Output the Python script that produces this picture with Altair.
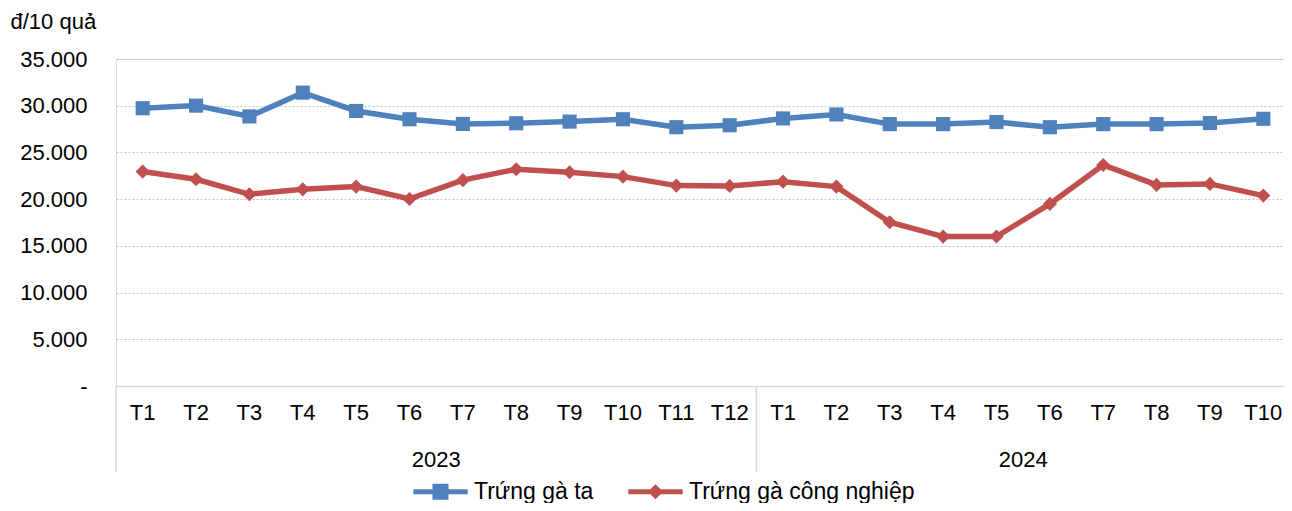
import altair as alt
import pandas as pd

# ---- data ----
years = ["2023"] * 12 + ["2024"] * 10
months = ["T1", "T2", "T3", "T4", "T5", "T6", "T7", "T8", "T9", "T10", "T11", "T12",
          "T1", "T2", "T3", "T4", "T5", "T6", "T7", "T8", "T9", "T10"]
trung_ga_ta = [29730, 30010, 28850, 31400, 29440, 28550, 28050, 28120, 28300, 28550, 27700, 27910,
               28640, 29060, 28030, 28030, 28250, 27700, 28030, 28030, 28150, 28600]
trung_ga_cn = [22950, 22130, 20520, 21050, 21340, 20020, 22030, 23200, 22880, 22410, 21450, 21410,
               21870, 21340, 17530, 15990, 16000, 19490, 23660, 21520, 21630, 20380]
series_names = ["Trứng gà ta", "Trứng gà công nghiệp"]
series_colors = ["#4F81BD", "#C0504D"]
y_ticks = [0, 5000, 10000, 15000, 20000, 25000, 30000, 35000]
y_title = "đ/10 quả"

FONT = "Liberation Sans"
W, H = 1168, 327          # visible plot area
X_RANGE = 1174            # band scale runs slightly past the visible right edge

keys = [f"{m}|{y}" for m, y in zip(months, years)]
rows = []
for k, v1, v2 in zip(keys, trung_ga_ta, trung_ga_cn):
    rows.append({"key": k, "series": series_names[0], "value": v1})
    rows.append({"key": k, "series": series_names[1], "value": v2})
df = pd.DataFrame(rows)

# year groups -> separators and centred year labels
year_order = []
for y in years:
    if y not in year_order:
        year_order.append(y)
sep_rows, year_rows = [], []
for y in year_order:
    start = years.index(y)
    n = years.count(y)
    sep_rows.append({"key": keys[start]})
    year_rows.append({"key": keys[start + n // 2], "year": y})
df_sep = pd.DataFrame(sep_rows)
df_year = pd.DataFrame(year_rows)

x_scale = alt.Scale(type="band", domain=keys, paddingInner=0, paddingOuter=0,
                    range=[0, X_RANGE])
x_axis = alt.Axis(title=None, labelExpr="split(datum.value, '|')[0]", labelAngle=0,
                  labelFontSize=22, labelFont=FONT, labelColor="#000000", labelPadding=16,
                  ticks=False, tickSize=0, domainColor="#d9d9d9", domainWidth=1.5, grid=False)
nb = "\u00a0" * 4
y_axis = alt.Axis(values=y_ticks,
                  labelExpr="datum.value == 0 ? '-" + nb + "' : format(datum.value / 1000, '.3f')",
                  title=y_title, titleAngle=0, titleAlign="left", titleBaseline="alphabetic",
                  titleX=-106, titleY=-31, titleFontSize=22, titleFontWeight="normal",
                  titleFont=FONT, titleColor="#000000",
                  labelFontSize=22, labelFont=FONT, labelColor="#000000", labelPadding=29,
                  domain=False, ticks=False, grid=True, gridColor="#bfbfbf",
                  gridDash=[2, 2], gridWidth=1)
y_enc = alt.Y("value:Q", scale=alt.Scale(domain=[0, 35000], nice=False), axis=y_axis)

def xenc(bp):
    return alt.X("key:O", sort=keys, scale=x_scale, axis=x_axis, bandPosition=bp)

color_scale = alt.Scale(domain=series_names, range=series_colors)

lines = alt.Chart(df).mark_line(strokeWidth=5.5).encode(
    x=xenc(0.5), y=y_enc,
    color=alt.Color("series:N", scale=color_scale, legend=None),
)
points = alt.Chart(df).mark_point(filled=True, opacity=1, size=200, strokeWidth=0).encode(
    x=xenc(0.5), y=y_enc,
    color=alt.Color("series:N", scale=color_scale, legend=None),
    shape=alt.Shape("series:N", scale=alt.Scale(domain=series_names, range=["square", "diamond"]),
                    legend=None),
)
seps = alt.Chart(df_sep).mark_rule(color="#d9d9d9", strokeWidth=1.5).encode(
    x=xenc(0), y=alt.value(H), y2=alt.value(H + 86)
)
year_text = alt.Chart(df_year).mark_text(fontSize=22, font=FONT, color="#000000",
                                         baseline="middle", align="center").encode(
    x=xenc(0), y=alt.value(H + 74), text="year:N"
)

blue_sym = "M-3.4,-0.3H-1V-1H1V-0.3H3.4V0.3H1V1H-1V0.3H-3.4Z"
red_sym = "M-3.4,-0.3H-0.64L0,-0.94L0.64,-0.3H3.4V0.3H0.64L0,0.94L-0.64,0.3H-3.4Z"
leg = alt.Legend(title=None, orient="none", legendX=313, legendY=421, direction="horizontal",
                 symbolSize=256, labelFontSize=23, labelFont=FONT, labelColor="#000000",
                 labelOffset=22, labelLimit=500, columnPadding=34, padding=0,
                 symbolStrokeWidth=0, symbolOpacity=1)
legend_layer = alt.Chart(df).transform_filter("false").mark_point(
    filled=True, opacity=1, strokeWidth=0).encode(
    color=alt.Color("series:N", scale=color_scale, legend=leg),
    shape=alt.Shape("series:N", scale=alt.Scale(domain=series_names, range=[blue_sym, red_sym]),
                    legend=leg),
)

chart = alt.layer(lines, points, seps, year_text, legend_layer).resolve_scale(
    color="independent", shape="independent"
).properties(
    width=W, height=H,
    autosize=alt.AutoSizeParams(type="none"),
    padding={"left": 108, "top": 51, "right": 0, "bottom": 117},
).configure_view(stroke=None).configure(font=FONT)

chart.save("out.html", embed_options={"renderer": "svg", "actions": False})
